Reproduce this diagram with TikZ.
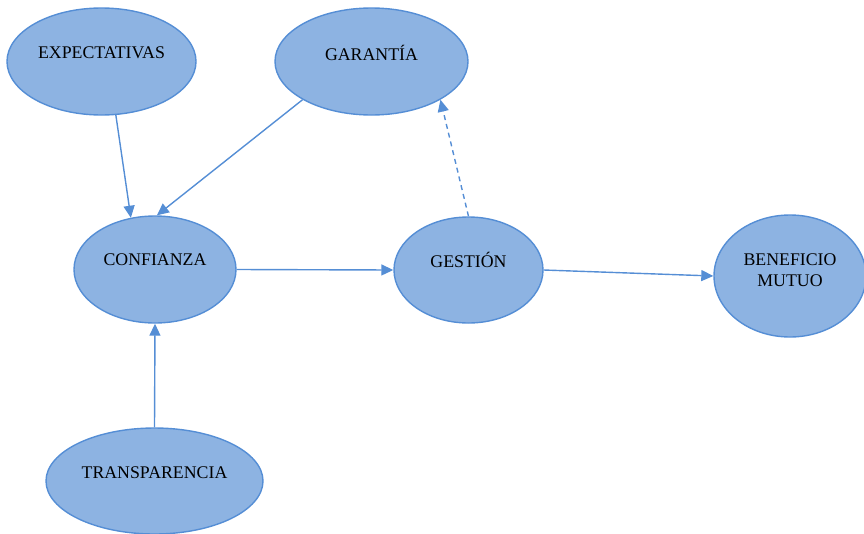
\documentclass[tikz,border=0pt]{standalone}
\usepackage{fontspec}
\setmainfont{Liberation Serif}
\usetikzlibrary{shapes.geometric,arrows.meta}
\definecolor{bubblefill}{RGB}{141,179,226}
\definecolor{bubbleline}{RGB}{85,142,213}
\tikzset{
  bubble/.style={ellipse, draw=bubbleline, fill=bubblefill, line width=1.4pt,
    inner sep=0pt},
  caption/.style={font=\fontsize{17.8}{20.5}\selectfont, text=black, align=center},
  link/.style={draw=bubbleline, line width=1.4pt,
    -{Triangle[length=12pt,width=11pt]}},
  maybe/.style={link, dash pattern=on 5pt off 4pt}
}
\begin{document}
\begin{tikzpicture}[x=1pt,y=-1pt]
  \useasboundingbox (0,0) rectangle (864,533);

  % factors
  \node[bubble, minimum width=189pt, minimum height=107pt,
        label={[caption,yshift=9pt]center:EXPECTATIVAS}] (exp) at (101.5,61.5) {};
  \node[bubble, minimum width=193pt, minimum height=107pt,
        label={[caption,yshift=8.5pt]center:GARANTÍA}] (gar) at (371.5,61.5) {};
  \node[bubble, minimum width=162pt, minimum height=107pt,
        label={[caption,yshift=9.5pt]center:CONFIANZA}] (conf) at (155,269.5) {};
  \node[bubble, minimum width=149pt, minimum height=106pt,
        label={[caption,yshift=10pt]center:GESTIÓN}] (gest) at (468.5,270) {};
  \node[bubble, minimum width=152pt, minimum height=122pt,
        label={[caption,yshift=6pt]center:BENEFICIO\\MUTUO}] (ben) at (790,276) {};
  \node[bubble, minimum width=217pt, minimum height=106pt,
        label={[caption,yshift=8pt]center:TRANSPARENCIA}] (trans) at (154.5,481) {};

  % relations
  \draw[link] (exp.-75) -- (conf.115);
  \draw[link] (gar.209) -- (conf.88);
  \draw[link] (trans.north) -- (conf.south);
  \draw[link] (conf.east) -- (gest.west);
  \draw[link] (gest.east) -- (ben.west);
  \draw[maybe] (gest.north) -- (gar.-29);
\end{tikzpicture}
\end{document}
